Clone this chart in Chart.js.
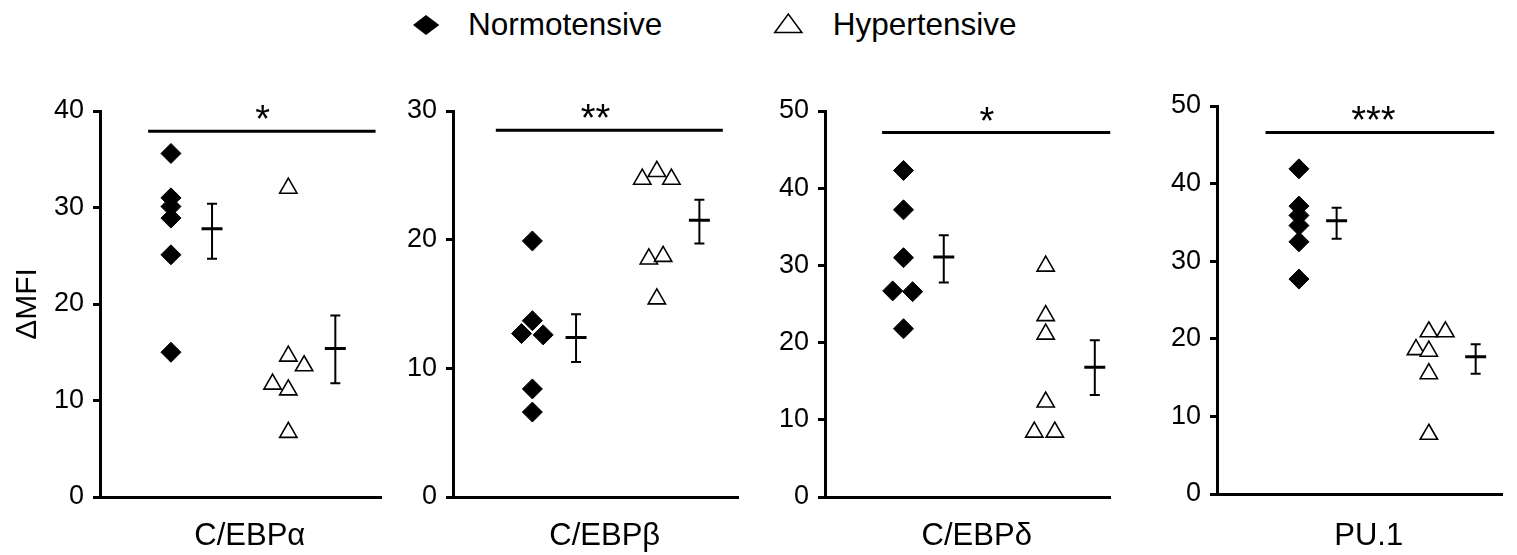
<!DOCTYPE html>
<html><head><meta charset="utf-8">
<script src="https://cdn.jsdelivr.net/npm/chart.js@4.4.1/dist/chart.umd.min.js"></script>
<style>
html,body{margin:0;padding:0;background:#fff;width:1517px;height:555px;overflow:hidden;position:relative;}
canvas{position:absolute;top:0;}
.leg{position:absolute;top:9.3px;font-family:"Liberation Sans",Arial,sans-serif;font-size:31.5px;line-height:31.5px;color:#000;white-space:nowrap;}
svg{position:absolute;}
</style></head><body>
<svg style="left:412px;top:14px" width="29" height="22"><polygon points="1,11 14,1 27.3,11 14,21" fill="#000"/></svg>
<div class="leg" style="left:468px">Normotensive</div>
<svg style="left:772px;top:12px" width="32" height="23"><polygon points="2.75,20.5 16.3,2 29.9,20.5" fill="#fff" stroke="#000" stroke-width="1.5"/></svg>
<div class="leg" style="left:832.7px">Hypertensive</div>
<script>
// ---- data ----
const categories = ['C/EBPα', 'C/EBPβ', 'C/EBPδ', 'PU.1'];
const yAxisTitle = 'ΔMFI';
const yMax = [40, 30, 50, 50];
const yStep = 10;

const normotensive = [
  [35.6, 31.0, 30.1, 28.9, 25.1, 15.0],
  [19.9, 13.7, 12.7, 12.6, 8.4, 6.6],
  [42.3, 37.2, 31.0, 26.7, 26.6, 21.8],
  [41.9, 37.1, 35.9, 34.6, 32.5, 27.7]
];
const normotensiveX = [
  [25.2, 25.2, 25.2, 25.2, 25.2, 25.2],
  [27.8, 27.8, 24.0, 31.6, 27.8, 27.8],
  [27.5, 27.5, 27.5, 23.7, 30.7, 27.5],
  [28.7, 28.7, 28.7, 28.7, 28.7, 28.7]
];
const hypertensive = [
  [32.0, 14.6, 13.6, 11.7, 11.1, 6.7],
  [24.7, 25.3, 24.7, 18.5, 18.7, 15.4],
  [29.9, 23.5, 21.1, 12.3, 8.4, 8.4],
  [20.9, 20.9, 18.6, 18.4, 15.5, 7.7]
];
const hypertensiveX = [
  [66.9, 66.9, 72.5, 61.3, 66.9, 66.9],
  [66.3, 71.4, 76.5, 68.6, 73.6, 71.4],
  [77.3, 77.3, 77.3, 77.3, 73.3, 80.5],
  [74.2, 80.0, 69.7, 74.2, 74.2, 74.2]
];
const normMean = [27.8, 12.4, 31.1, 35.2];
const normErrLow = [24.7, 10.5, 27.8, 32.9];
const normErrHigh = [30.4, 14.2, 33.9, 36.9];
const normMeanX = [39.8, 43.1, 41.6, 41.9];
const hyperMean = [15.4, 21.5, 16.8, 17.7];
const hyperErrLow = [11.8, 19.7, 13.2, 15.5];
const hyperErrHigh = [18.8, 23.1, 20.3, 19.3];
const hyperMeanX = [83.6, 86.3, 94.5, 90.6];
const sigY = [37.9, 28.5, 47.2, 46.6];
const sigXStart = [17.1, 15.0, 20.0, 17.0];
const sigXEnd = [97.9, 94.5, 100, 97.1];
const sigStars = ['*', '**', '*', '***'];
const starX = [57.8, 49.9, 56.7, 54.8];

// ---- layout ----
const axisLeft = [100, 453, 825, 1217];
const plotWidth = [287, 291, 291, 291];
const plotTop = [111, 111, 111, 106];
const plotBottom = [497, 497, 497, 494];
const yAxisWidth = [100, 60, 60, 60];
const rightPad = 8;
const H = 555;
const FONT = '"Liberation Sans", Arial, sans-serif';

const annotate = {
  id: 'annotate',
  afterDatasetsDraw(chart, args, opts) {
    const {ctx, chartArea, scales} = chart;
    ctx.save();
    ctx.fillStyle = '#000';
    ctx.textAlign = 'center';
    ctx.textBaseline = 'alphabetic';
    ctx.font = '38px ' + FONT;
    ctx.fillText(opts.stars, scales.x.getPixelForValue(opts.starX), scales.y.getPixelForValue(opts.sigY) + 1);
    ctx.font = '31px ' + FONT;
    ctx.fillText(opts.label, (chartArea.left + chartArea.right) / 2 + 9, 545);
    ctx.restore();
  }
};

categories.forEach((cat, i) => {
  const cv = document.createElement('canvas');
  const left = axisLeft[i] - yAxisWidth[i];
  const w = yAxisWidth[i] + plotWidth[i] + rightPad;
  cv.width = w; cv.height = H;
  cv.style.left = left + 'px';
  cv.style.width = w + 'px'; cv.style.height = H + 'px';
  document.body.appendChild(cv);

  const pts = (vals, xs) => vals.map((v, k) => ({x: xs[k], y: v}));
  const errDs = (x, lo, hi) => ({
    data: [{x: x, y: lo}, {x: x, y: hi}], showLine: true,
    borderColor: '#000', borderWidth: 2, pointStyle: 'line', pointRadius: 5,
    pointBorderWidth: 2, pointBorderColor: '#000', backgroundColor: '#000'
  });

  new Chart(cv, {
    type: 'scatter',
    data: {
      datasets: [
        {label: 'Normotensive', data: pts(normotensive[i], normotensiveX[i]), pointStyle: 'rectRot',
         pointRadius: 10, backgroundColor: '#000', borderColor: '#000', borderWidth: 1},
        {label: 'Hypertensive', data: pts(hypertensive[i], hypertensiveX[i]), pointStyle: 'triangle',
         pointRadius: 10, backgroundColor: '#fff', borderColor: '#000', borderWidth: 1.6},
        {label: 'mean', data: [{x: normMeanX[i], y: normMean[i]}, {x: hyperMeanX[i], y: hyperMean[i]}],
         pointStyle: 'line', pointRadius: 10.5, borderColor: '#000', borderWidth: 3, backgroundColor: '#000'},
        errDs(normMeanX[i], normErrLow[i], normErrHigh[i]),
        errDs(hyperMeanX[i], hyperErrLow[i], hyperErrHigh[i]),
        {label: 'sig', data: [{x: sigXStart[i], y: sigY[i]}, {x: sigXEnd[i], y: sigY[i]}], showLine: true,
         borderColor: '#000', borderWidth: 3, pointRadius: 0}
      ]
    },
    options: {
      responsive: false, animation: false, events: [],
      layout: {padding: {top: plotTop[i], left: 0, right: rightPad, bottom: 0}},
      plugins: {legend: {display: false}, tooltip: {enabled: false},
        annotate: {stars: sigStars[i], starX: starX[i], sigY: sigY[i], label: cat}},
      scales: {
        x: {type: 'linear', min: 0, max: 100,
            ticks: {display: false}, grid: {display: false},
            border: {display: true, width: 3, color: '#000'},
            afterFit(s) { s.height = H - plotBottom[i]; }},
        y: {type: 'linear', min: 0, max: yMax[i],
            ticks: {stepSize: yStep, color: '#000', padding: 9, font: {family: FONT, size: 27}},
            grid: {display: true, drawOnChartArea: false, drawTicks: true, tickLength: 7, color: '#000', lineWidth: 3},
            border: {display: true, width: 3, color: '#000'},
            title: {display: i === 0, text: yAxisTitle, color: '#000', font: {family: FONT, size: 30},
                    padding: {top: 10, bottom: 0}},
            afterFit(s) { s.width = yAxisWidth[i]; }}
      }
    },
    plugins: [annotate]
  });
});
</script>
</body></html>
